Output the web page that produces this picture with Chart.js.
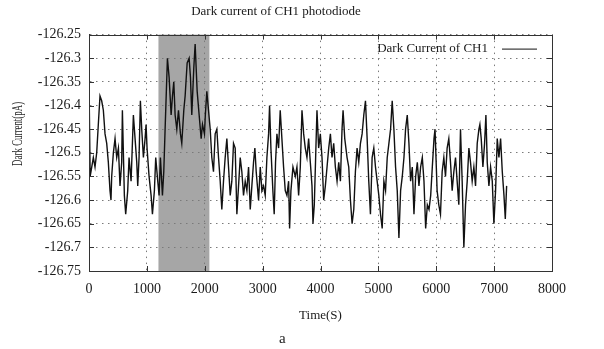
<!DOCTYPE html>
<html>
<head>
<meta charset="utf-8">
<script src="https://cdn.jsdelivr.net/npm/chart.js@4.4.1/dist/chart.umd.min.js"></script>
<style>
  html, body { margin: 0; padding: 0; background: #fff; }
  #wrap { position: relative; width: 604px; height: 349px; }
  #caption { position: absolute; left: 279px; top: 330px; font: 15px 'Liberation Serif', serif; color: #222; }
</style>
</head>
<body>
<div id="wrap">
  <canvas id="darkChart" width="604" height="349"></canvas>
  <div id="caption">a</div>
</div>
<script>
/* Data START */
var chartTitle = 'Dark current of CH1 photodiode';
var seriesLabel = 'Dark Current of CH1';
var xAxisTitle = 'Time(S)';
var yAxisTitle = 'Dark Current(pA)';

// time in seconds
var times = [
    0, 20, 75, 104, 133, 161, 190, 219, 248, 277, 306, 334, 363, 380, 392, 421, 450, 479, 508, 536,
    565, 577, 611, 634, 669, 692, 727, 767, 796, 825, 842, 865, 888, 911, 940, 969, 986, 1003, 1038, 1073,
    1096, 1130, 1153, 1188, 1211, 1234, 1269, 1292, 1315, 1355, 1384, 1419, 1442, 1465, 1488, 1517, 1546, 1580, 1603, 1638,
    1661, 1696, 1730, 1753, 1776, 1811, 1834, 1869, 1903, 1938, 1961, 1995, 2010, 2036, 2065, 2094, 2122, 2151, 2180, 2209,
    2238, 2267, 2295, 2324, 2353, 2382, 2411, 2440, 2468, 2497, 2526, 2555, 2584, 2613, 2641, 2670, 2699, 2728, 2757, 2786,
    2814, 2843, 2866, 2889, 2930, 2959, 2987, 3016, 3045, 3074, 3103, 3120, 3143, 3177, 3200, 3223, 3247, 3276, 3304, 3333,
    3362, 3391, 3420, 3449, 3466, 3489, 3524, 3564, 3593, 3622, 3651, 3680, 3709, 3737, 3766, 3795, 3824, 3853, 3870, 3893,
    3916, 3939, 3968, 3997, 4026, 4055, 4084, 4113, 4142, 4171, 4199, 4228, 4257, 4286, 4315, 4344, 4372, 4390, 4419, 4459,
    4488, 4517, 4546, 4575, 4603, 4632, 4661, 4690, 4719, 4748, 4777, 4806, 4834, 4863, 4892, 4921, 4950, 4979, 5008, 5037,
    5066, 5095, 5124, 5153, 5182, 5211, 5239, 5268, 5297, 5326, 5355, 5384, 5413, 5442, 5470, 5499, 5528, 5557, 5586, 5615,
    5644, 5673, 5701, 5730, 5759, 5788, 5817, 5846, 5875, 5904, 5932, 5961, 5979, 6015, 6044, 6073, 6102, 6131, 6160, 6188,
    6217, 6246, 6275, 6304, 6333, 6361, 6390, 6419, 6448, 6477, 6506, 6535, 6564, 6592, 6621, 6650, 6679, 6708, 6737, 6754,
    6777, 6806, 6835, 6858, 6881, 6910, 6939, 6968, 6996, 7025, 7054, 7083, 7112, 7141, 7170, 7193, 7216
];

// dark current in pA
var currents = [
    -126.35, -126.55, -126.51, -126.53, -126.50, -126.44, -126.38, -126.39, -126.41, -126.46, -126.48, -126.52, -126.58, -126.60, -126.55, -126.50, -126.47, -126.51, -126.49, -126.57,
    -126.52, -126.41, -126.59, -126.63, -126.58, -126.51, -126.56, -126.42, -126.47, -126.52, -126.57, -126.51, -126.39, -126.45, -126.51, -126.47, -126.44, -126.49, -126.55, -126.59,
    -126.63, -126.58, -126.51, -126.56, -126.59, -126.51, -126.59, -126.54, -126.45, -126.30, -126.34, -126.42, -126.38, -126.35, -126.42, -126.45, -126.41, -126.46, -126.48, -126.41,
    -126.38, -126.31, -126.30, -126.34, -126.42, -126.32, -126.27, -126.37, -126.42, -126.47, -126.44, -126.46, -126.42, -126.37, -126.41, -126.45, -126.51, -126.54, -126.46, -126.45,
    -126.51, -126.56, -126.62, -126.56, -126.51, -126.47, -126.53, -126.59, -126.56, -126.48, -126.49, -126.63, -126.57, -126.51, -126.54, -126.59, -126.56, -126.58, -126.53, -126.62,
    -126.57, -126.52, -126.49, -126.54, -126.60, -126.53, -126.58, -126.57, -126.59, -126.51, -126.46, -126.40, -126.49, -126.58, -126.63, -126.52, -126.46, -126.49, -126.41, -126.47,
    -126.53, -126.58, -126.59, -126.56, -126.66, -126.58, -126.53, -126.55, -126.53, -126.59, -126.53, -126.41, -126.46, -126.49, -126.51, -126.47, -126.52, -126.57, -126.65, -126.61,
    -126.51, -126.41, -126.49, -126.46, -126.51, -126.60, -126.57, -126.53, -126.49, -126.46, -126.51, -126.48, -126.53, -126.56, -126.52, -126.56, -126.45, -126.41, -126.47, -126.51,
    -126.53, -126.60, -126.65, -126.62, -126.54, -126.49, -126.52, -126.48, -126.46, -126.42, -126.39, -126.47, -126.56, -126.63, -126.51, -126.49, -126.53, -126.56, -126.59, -126.63,
    -126.66, -126.56, -126.58, -126.51, -126.48, -126.45, -126.39, -126.45, -126.53, -126.58, -126.68, -126.58, -126.55, -126.51, -126.45, -126.42, -126.48, -126.56, -126.53, -126.63,
    -126.55, -126.52, -126.57, -126.53, -126.51, -126.56, -126.66, -126.61, -126.62, -126.59, -126.53, -126.47, -126.45, -126.58, -126.61, -126.63, -126.54, -126.51, -126.55, -126.49,
    -126.47, -126.52, -126.58, -126.54, -126.51, -126.56, -126.61, -126.45, -126.56, -126.70, -126.61, -126.56, -126.49, -126.52, -126.56, -126.53, -126.57, -126.48, -126.45, -126.44,
    -126.47, -126.53, -126.48, -126.42, -126.52, -126.57, -126.53, -126.56, -126.65, -126.58, -126.47, -126.51, -126.47, -126.54, -126.59, -126.64, -126.57
];

// shaded interval (s)
var highlightRange = [1200, 2080];

var xTickValues = [0, 1000, 2000, 3000, 4000, 5000, 6000, 7000, 8000];
var xTickLabels = ['0', '1000', '2000', '3000', '4000', '5000', '6000', '7000', '8000'];
var yTickValues = [-126.75, -126.7, -126.65, -126.6, -126.55, -126.5, -126.45, -126.4, -126.35, -126.3, -126.25];
var yTickLabels = ['-126.75', '-126.7', '-126.65', '-126.6', '-126.55', '-126.5', '-126.45', '-126.4', '-126.35', '-126.3', '-126.25'];
/* Data END */

var serif = "'Liberation Serif', 'Times New Roman', serif";
var textColor = '#1a1a1a';

// gnuplot-like extras: shaded band, closed frame with inner ticks, legend inside, y title
var framePlugin = {
    id: 'frame',
    beforeDraw: function (chart) {
        var ctx = chart.ctx, a = chart.chartArea, x = chart.scales.x;
        var x0 = x.getPixelForValue(highlightRange[0]);
        var x1 = x.getPixelForValue(highlightRange[1]);
        ctx.save();
        ctx.fillStyle = '#a6a6a6';
        ctx.fillRect(x0, a.top, x1 - x0, a.bottom - a.top);
        ctx.restore();
    },
    afterDraw: function (chart) {
        var ctx = chart.ctx, a = chart.chartArea, x = chart.scales.x, y = chart.scales.y;
        ctx.save();
        ctx.strokeStyle = '#333';
        ctx.lineWidth = 1;
        ctx.strokeRect(Math.round(a.left) + 0.5, Math.round(a.top) + 0.5, Math.round(a.right - a.left), Math.round(a.bottom - a.top));

        ctx.beginPath();
        x.ticks.forEach(function (t) {
            var px = Math.round(x.getPixelForValue(t.value)) + 0.5;
            ctx.moveTo(px, a.bottom); ctx.lineTo(px, a.bottom - 5);
            ctx.moveTo(px, a.top); ctx.lineTo(px, a.top + 5);
        });
        y.ticks.forEach(function (t) {
            var py = Math.round(y.getPixelForValue(t.value)) + 0.5;
            ctx.moveTo(a.left, py); ctx.lineTo(a.left + 5, py);
            ctx.moveTo(a.right, py); ctx.lineTo(a.right - 5, py);
        });
        ctx.stroke();

        // legend
        var ds = chart.data.datasets[0];
        var lineEnd = a.right - 15, lineStart = lineEnd - 35, ly = a.top + 14;
        ctx.font = '13px ' + serif;
        ctx.fillStyle = textColor;
        ctx.textAlign = 'right';
        ctx.textBaseline = 'middle';
        ctx.fillText(ds.label, lineStart - 14, ly);
        ctx.strokeStyle = ds.borderColor;
        ctx.lineWidth = 1;
        ctx.beginPath();
        ctx.moveTo(lineStart, ly + 0.5); ctx.lineTo(lineEnd, ly + 0.5);
        ctx.stroke();

        // y axis title
        ctx.translate(18, a.top + (a.bottom - a.top) * 0.42);
        ctx.rotate(-Math.PI / 2);
        ctx.textAlign = 'center';
        ctx.font = '14px ' + serif;
        ctx.fillText(yAxisTitle, 0, 0, 64);
        ctx.restore();
    }
};

var chart = new Chart('darkChart', {
    type: 'line',
    data: {
        datasets: [{
            label: seriesLabel,
            data: times.map(function (t, i) { return {x: t, y: currents[i]}; }),
            borderColor: '#111',
            borderWidth: 1.4,
            pointRadius: 0,
            tension: 0,
            fill: false
        }]
    },
    options: {
        responsive: false,
        animation: false,
        devicePixelRatio: 1,
        layout: {padding: {left: 0, right: 52, top: 0, bottom: 0}},
        plugins: {
            legend: {display: false},
            tooltip: {enabled: false},
            title: {
                display: true,
                text: chartTitle,
                color: textColor,
                font: {family: serif, size: 13, weight: 'normal'},
                padding: {top: 4, bottom: 15}
            }
        },
        scales: {
            x: {
                type: 'linear',
                min: 0,
                max: 8000,
                afterFit: function (s) { s.height = 78; },
                afterBuildTicks: function (s) { s.ticks = xTickValues.map(function (v) { return {value: v}; }); },
                ticks: {
                    callback: function (v, i) { return xTickLabels[i]; },
                    font: {family: serif, size: 14},
                    color: textColor,
                    padding: 10,
                    maxRotation: 0,
                    autoSkip: false
                },
                grid: {color: '#7a7a7a', lineWidth: 1, drawTicks: false},
                border: {color: '#333', width: 1, dash: [1.5, 4.5]},
                title: {
                    display: true,
                    text: xAxisTitle,
                    color: textColor,
                    font: {family: serif, size: 13},
                    padding: {top: 4, bottom: 26}
                }
            },
            y: {
                type: 'linear',
                min: -126.75,
                max: -126.25,
                afterFit: function (s) { s.width = 89; },
                afterBuildTicks: function (s) { s.ticks = yTickValues.map(function (v) { return {value: v}; }); },
                ticks: {
                    callback: function (v, i) { return yTickLabels[i]; },
                    font: {family: serif, size: 14},
                    color: textColor,
                    padding: 8,
                    autoSkip: false
                },
                grid: {color: '#7a7a7a', lineWidth: 1, drawTicks: false},
                border: {color: '#333', width: 1, dash: [1.5, 4.5]}
            }
        }
    },
    plugins: [framePlugin]
});
</script>
</body>
</html>
